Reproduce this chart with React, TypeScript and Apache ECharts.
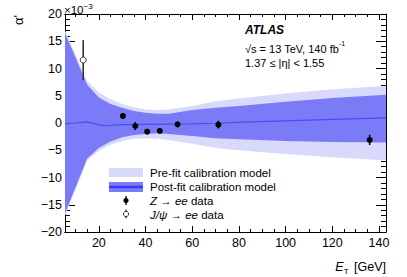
import React, { useEffect, useRef } from "react";
import * as echarts from "echarts";

// Band nodes (E_T in GeV) and envelope values (x 1e-3)
const bandE = [5.5, 15, 20, 25, 30, 35, 40, 45, 50, 60, 70, 80, 100, 120, 143];
const preFitUp = [17.0, 7.7, 5.6, 4.4, 3.5, 2.9, 2.5, 2.4, 2.5, 3.1, 4.0, 4.5, 5.4, 6.2, 6.8];
const preFitDown = [-17.0, -6.9, -5.1, -4.0, -3.3, -2.9, -2.8, -2.9, -3.1, -3.8, -4.6, -5.0, -5.7, -6.3, -6.9];
const postFitUp = [16.5, 7.0, 4.7, 3.5, 2.8, 2.2, 1.9, 1.7, 1.7, 2.4, 2.8, 3.1, 3.9, 4.6, 5.2];
const postFitDown = [-16.6, -6.5, -4.6, -3.4, -2.6, -2.2, -2.0, -1.9, -2.0, -2.4, -2.8, -3.0, -3.3, -3.5, -3.6];

const centralE = [5.5, 10, 15, 18, 22, 30, 40, 50, 60, 70, 85, 100, 120, 143];
const centralV = [-0.1, 0.0, 0.2, -0.1, -0.5, -0.3, -0.25, -0.2, -0.15, -0.05, 0.2, 0.4, 0.65, 0.95];

const zE = [30.3, 35.6, 40.7, 46.1, 53.7, 71.2, 136];
const zV = [1.3, -0.55, -1.6, -1.45, -0.25, -0.3, -3.1];
const zErr = [0.3, 0.75, 0.3, 0.3, 0.3, 0.7, 0.95];

const jpsiE = [13.3];
const jpsiV = [11.55];
const jpsiErr = [3.65];

const xMajorTicks = [20, 40, 60, 80, 100, 120, 140];
const xMinorTicks = [10, 15, 25, 30, 35, 45, 50, 55, 65, 70, 75, 85, 90, 95, 105, 110, 115, 125, 130, 135];

const LIGHT = "#d9d9fb";
const DARK = "#7b7bf8";
const LINE = "#4c4cf2";
const FONT = "Liberation Sans";
const LEG = 11.5;

function bandSeries(up: number[], down: number[], color: string, z: number) {
  return {
    type: "custom",
    silent: true,
    clip: true,
    z,
    data: bandE.map((e, i) => [e, up[i], down[i]]),
    encode: { x: 0, y: [1, 2] },
    renderItem: (params: any, api: any) => {
      if (params.dataIndex !== 0) return null;
      const pts: number[][] = [];
      for (let i = 0; i < bandE.length; i++) pts.push(api.coord([bandE[i], up[i]]));
      for (let i = bandE.length - 1; i >= 0; i--) pts.push(api.coord([bandE[i], down[i]]));
      return { type: "polygon", shape: { points: pts }, style: { fill: color, stroke: null } };
    },
  };
}

function xAxisDef(position: string, ticks: number[], len: number, labels: boolean) {
  return {
    type: "value",
    position,
    min: 5.5,
    max: 143,
    splitLine: { show: false },
    axisLine: { show: true, onZero: false, lineStyle: { color: "#000", width: 1 } },
    axisTick: { show: true, inside: true, length: len, customValues: ticks, lineStyle: { color: "#000", width: 1 } },
    axisLabel: labels
      ? { show: true, customValues: ticks, color: "#000", fontSize: 12.5, fontFamily: FONT, margin: 4 }
      : { show: false },
  };
}

function yAxisDef(position: string, labels: boolean) {
  return {
    type: "value",
    position,
    min: -20,
    max: 20,
    interval: 5,
    splitLine: { show: false },
    axisLine: { show: true, onZero: false, lineStyle: { color: "#000", width: 1 } },
    axisTick: { show: true, inside: true, length: 10, lineStyle: { color: "#000", width: 1 } },
    minorTick: { show: true, splitNumber: 5, length: 5, lineStyle: { color: "#000", width: 1 } },
    axisLabel: labels
      ? {
          show: true,
          color: "#000",
          fontSize: 12.5,
          fontFamily: FONT,
          margin: 3,
          formatter: (v: number) => String(v).replace("-", "\u2212"),
        }
      : { show: false },
  };
}

export default function App() {
  const ref = useRef<HTMLDivElement>(null);
  useEffect(() => {
    if (!ref.current) return;
    const chart = echarts.init(ref.current, null, { renderer: "svg" });
    const option: any = {
      animation: false,
      backgroundColor: "#fff",
      grid: { left: 65, top: 14, right: 21, bottom: 45, containLabel: false },
      xAxis: [
        xAxisDef("bottom", xMajorTicks, 6, true),
        xAxisDef("bottom", xMinorTicks, 3, false),
        xAxisDef("top", xMajorTicks, 6, false),
        xAxisDef("top", xMinorTicks, 3, false),
      ],
      yAxis: [yAxisDef("left", true), yAxisDef("right", false)],
      series: [
        bandSeries(preFitUp, preFitDown, LIGHT, 1),
        bandSeries(postFitUp, postFitDown, DARK, 2),
        {
          type: "line",
          z: 3,
          data: centralE.map((e, i) => [e, centralV[i]]),
          showSymbol: false,
          symbol: "none",
          smooth: false,
          lineStyle: { color: LINE, width: 1.2 },
          silent: true,
        },
        {
          type: "custom",
          z: 10,
          data: zE.map((e, i) => [e, zV[i], zErr[i]]),
          encode: { x: 0, y: 1 },
          renderItem: (params: any, api: any) => {
            const x = api.value(0), y = api.value(1), err = api.value(2);
            const t = api.coord([x, y + err]);
            const b = api.coord([x, y - err]);
            const c = api.coord([x, y]);
            return {
              type: "group",
              children: [
                { type: "line", shape: { x1: t[0], y1: t[1], x2: b[0], y2: b[1] }, style: { stroke: "#000", lineWidth: 1.5 } },
                { type: "circle", shape: { cx: c[0], cy: c[1], r: 3 }, style: { fill: "#000" } },
              ],
            };
          },
        },
        {
          type: "custom",
          z: 10,
          data: jpsiE.map((e, i) => [e, jpsiV[i], jpsiErr[i]]),
          encode: { x: 0, y: 1 },
          renderItem: (params: any, api: any) => {
            const x = api.value(0), y = api.value(1), err = api.value(2);
            const t = api.coord([x, y + err]);
            const b = api.coord([x, y - err]);
            const c = api.coord([x, y]);
            return {
              type: "group",
              children: [
                { type: "line", shape: { x1: t[0], y1: t[1], x2: b[0], y2: b[1] }, style: { stroke: "#333", lineWidth: 1.6 } },
                { type: "circle", shape: { cx: c[0], cy: c[1], r: 3 }, style: { fill: "#fff", stroke: "#333", lineWidth: 1 } },
              ],
            };
          },
        },
      ],
      graphic: [
        {
          type: "text",
          x: 18,
          y: 20,
          rotation: Math.PI / 2,
          style: { text: "\u03b1'", fill: "#000", fontSize: 13, fontFamily: FONT, align: "center", verticalAlign: "middle" },
        },
        {
          type: "text",
          x: 64,
          y: 2,
          style: {
            text: "{b|\u00d710}{s|\u22123}",
            fill: "#000",
            fontFamily: FONT,
            align: "left",
            verticalAlign: "top",
            rich: {
              b: { fontSize: 11.5, fontFamily: FONT, lineHeight: 14, verticalAlign: "bottom" },
              s: { fontSize: 8, fontFamily: FONT, lineHeight: 9, verticalAlign: "top" },
            },
          },
        },
        {
          type: "text",
          x: 386,
          y: 267,
          style: {
            text: "{i|E}{u|T} [GeV]",
            fill: "#000",
            fontFamily: FONT,
            fontSize: 12.5,
            align: "right",
            verticalAlign: "middle",
            rich: {
              i: { fontSize: 12.5, fontStyle: "italic", fontFamily: FONT, lineHeight: 16 },
              u: { fontSize: 8, fontFamily: FONT, lineHeight: 9, verticalAlign: "bottom", padding: [0, 2, 0, 0] },
            },
          },
        },
        {
          type: "text",
          x: 245,
          y: 30,
          style: { text: "ATLAS", fill: "#000", fontSize: 12, fontWeight: "bold", fontStyle: "italic", fontFamily: FONT, verticalAlign: "middle" },
        },
        {
          type: "text",
          x: 245,
          y: 40,
          style: {
            text: "{b|\u221as = 13 TeV, 140 fb}{s|-1}",
            fill: "#000",
            fontFamily: FONT,
            verticalAlign: "top",
            rich: {
              b: { fontSize: 11, fontFamily: FONT, lineHeight: 14, verticalAlign: "bottom" },
              s: { fontSize: 7, fontFamily: FONT, lineHeight: 8, verticalAlign: "top" },
            },
          },
        },
        {
          type: "text",
          x: 245,
          y: 63,
          style: { text: "1.37 \u2264 |\u03b7| < 1.55", fill: "#000", fontSize: 11, fontFamily: FONT, verticalAlign: "middle" },
        },
        { type: "rect", shape: { x: 109, y: 168, width: 34, height: 9 }, style: { fill: LIGHT } },
        { type: "rect", shape: { x: 109, y: 182, width: 34, height: 10 }, style: { fill: DARK } },
        { type: "line", shape: { x1: 109, y1: 187, x2: 143, y2: 187 }, style: { stroke: "#3a3af0", lineWidth: 2.5 } },
        { type: "line", shape: { x1: 126, y1: 196, x2: 126, y2: 205 }, style: { stroke: "#000", lineWidth: 1.3 } },
        { type: "circle", shape: { cx: 126, cy: 200.5, r: 2.6 }, style: { fill: "#000" } },
        { type: "line", shape: { x1: 126, y1: 209.5, x2: 126, y2: 218.5 }, style: { stroke: "#333", lineWidth: 1.2 } },
        { type: "circle", shape: { cx: 126, cy: 214, r: 2.6 }, style: { fill: "#fff", stroke: "#333", lineWidth: 1 } },
        {
          type: "text",
          x: 150,
          y: 172.5,
          style: { text: "Pre-fit calibration model", fill: "#000", fontSize: LEG, fontFamily: FONT, verticalAlign: "middle" },
        },
        {
          type: "text",
          x: 150,
          y: 186.5,
          style: { text: "Post-fit calibration model", fill: "#000", fontSize: LEG, fontFamily: FONT, verticalAlign: "middle" },
        },
        {
          type: "text",
          x: 150,
          y: 200.5,
          style: {
            text: "{i|Z} \u2192 {i|ee} data",
            fill: "#000",
            fontSize: LEG,
            fontFamily: FONT,
            verticalAlign: "middle",
            rich: { i: { fontStyle: "italic", fontSize: LEG, fontFamily: FONT } },
          },
        },
        {
          type: "text",
          x: 150,
          y: 214.5,
          style: {
            text: "{i|J/\u03c8} \u2192 {i|ee} data",
            fill: "#000",
            fontSize: LEG,
            fontFamily: FONT,
            verticalAlign: "middle",
            rich: { i: { fontStyle: "italic", fontSize: LEG, fontFamily: FONT } },
          },
        },
      ],
    };
    chart.setOption(option);
    return () => chart.dispose();
  }, []);
  return <div ref={ref} style={{ width: 407, height: 277, position: "absolute", left: 0, top: 0 }} />;
}
